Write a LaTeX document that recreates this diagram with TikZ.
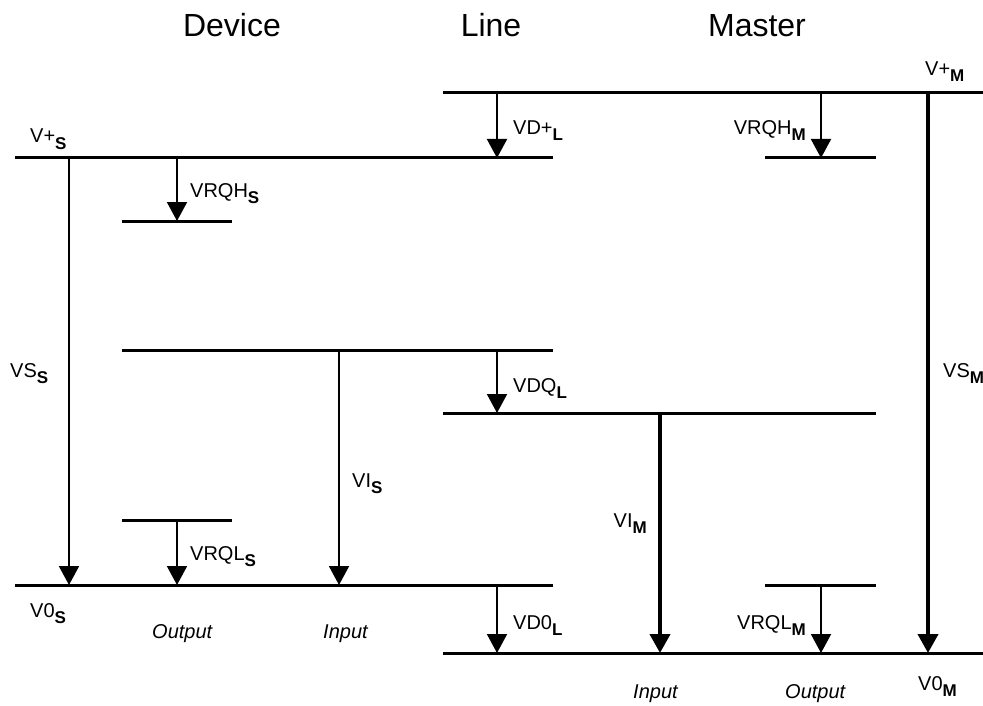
\documentclass[tikz,border=0pt]{standalone}
\usepackage{fontspec}
\setmainfont{Liberation Sans}
\usetikzlibrary{arrows.meta}
\newcommand{\vsub}[1]{\raisebox{-6pt}{\fontsize{17}{17}\selectfont\bfseries #1}}
\tikzset{
    bar/.style={line width=3pt},
    volt/.style={line width=2pt, -{Triangle[width=20pt,length=19pt]}},
    voltthick/.style={volt, line width=4pt},
    lab/.style={anchor=base west, inner sep=0pt, font=\fontsize{20}{24}\selectfont},
    labr/.style={lab, anchor=base east},
    io/.style={lab, font=\fontsize{20}{24}\selectfont\itshape},
    title/.style={anchor=base, inner sep=0pt, font=\fontsize{32}{36}\selectfont}
}

\begin{document}
\begin{tikzpicture}[x=1pt, y=-1pt]
        \useasboundingbox (0,0) rectangle (983,706);
        % titles
        \node[title] (tdev) at (232,37) {Device};
        \node[title] (tline) at (491,37) {Line};
        \node[title] (tmas) at (757,37) {Master};
        % levels
        \foreach \n/\xa/\xb/\y in {
            mtop/443/983/93,
            stop/15/553/158,
            rqhM/765/876/158,
            rqhS/122/232/221,
            inS/122/553/350,
            dq/443/876/413,
            rqlS/122/232/520,
            szero/15/553/585,
            rqlM/765/876/585,
            mzero/443/983/653}
        {
            \coordinate (\n-l) at (\xa,\y);
            \coordinate (\n-r) at (\xb,\y);
            \draw[bar] (\n-l) -- (\n-r);
        }
        % arrows
        \foreach \n/\x/\ya/\yb/\st in {
            vsS/69/158/585/volt,
            rqhSa/177/158/221/volt,
            viS/339/350/585/volt,
            rqlSa/177/520/585/volt,
            dplus/497/93/158/volt,
            dqa/497/350/413/volt,
            dzero/497/585/653/volt,
            rqhMa/821/93/158/volt,
            rqlMa/821/585/653/volt,
            viM/660/413/653/voltthick,
            vsM/928/93/653/voltthick}
        {
            \coordinate (\n-a) at (\x,\ya);
            \coordinate (\n-b) at (\x,\yb);
            \draw[\st] (\n-a) -- (\n-b);
        }
        % labels
        \node[lab] (lvpS) at (30,143) {V+\vsub{S}};
        \node[lab] (lrqhS) at (190,197) {VRQH\vsub{S}};
        \node[lab] (lvsS) at (10,377) {VS\vsub{S}};
        \node[lab] (lviS) at (352,487) {VI\vsub{S}};
        \node[lab] (lrqlS) at (190,560) {VRQL\vsub{S}};
        \node[lab] (lv0S) at (30,617) {V0\vsub{S}};
        \node[lab] (ldp) at (513,135) {VD+\vsub{L}};
        \node[lab] (ldq) at (513,392) {VDQ\vsub{L}};
        \node[lab] (ld0) at (513,629) {VD0\vsub{L}};
        \node[labr] (lrqhM) at (806,135) {VRQH\vsub{M}};
        \node[labr] (lrqlM) at (806,629) {VRQL\vsub{M}};
        \node[labr] (lviM) at (647,527) {VI\vsub{M}};
        \node[lab] (lvsM) at (943,377) {VS\vsub{M}};
        \node[lab] (lvpM) at (925,76) {V+\vsub{M}};
        \node[lab] (lv0M) at (918,690) {V0\vsub{M}};
        \node[io] (outS) at (152,638) {Output};
        \node[io] (inpS) at (323,638) {Input};
        \node[io] (inpM) at (633,698) {Input};
        \node[io] (outM) at (785,698) {Output};
    \end{tikzpicture}
\end{document}
